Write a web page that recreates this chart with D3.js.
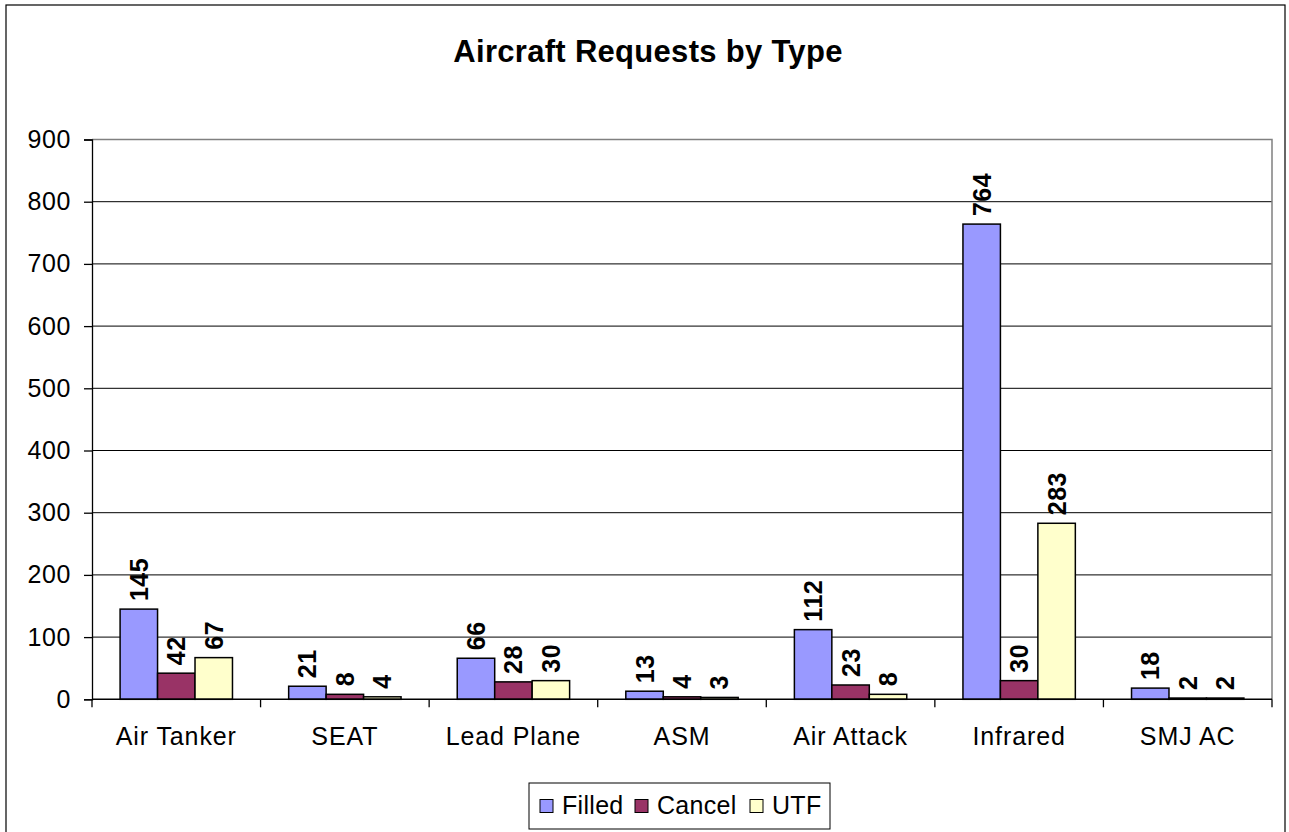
<!DOCTYPE html>
<html><head><meta charset="utf-8">
<script src="https://cdn.jsdelivr.net/npm/d3@7"></script>
<style>html,body{margin:0;padding:0;background:#fff;overflow:hidden}svg{display:block;font-family:"Liberation Sans",Arial,sans-serif}</style>
</head><body>
<script>
const categories = ["Air Tanker","SEAT","Lead Plane","ASM","Air Attack","Infrared","SMJ AC"];
const seriesNames = ["Filled","Cancel","UTF"];
const filled = [145,21,66,13,112,764,18];
const cancel = [42,8,28,4,23,30,2];
const utf = [67,4,30,3,8,283,2];
const yTicks = [0,100,200,300,400,500,600,700,800,900];
const colors = ["#9999FF","#993366","#FFFFCC"];
const values = [filled, cancel, utf];

const W = 1289, H = 832;
const svg = d3.select("body").append("svg").attr("width",W).attr("height",H);
svg.append("rect").attr("x",6).attr("y",5).attr("width",1279).attr("height",900)
  .attr("fill","#fff").attr("stroke","#000").attr("stroke-width",1.2);

const L = 92, R = 1272, T = 139.5, B = 699.3;
const x0 = d3.scaleBand().domain(categories).range([L,R]).paddingInner(0).paddingOuter(0);
const y = d3.scaleLinear().domain([0,900]).range([B,T]);

svg.append("text").attr("x",648).attr("y",62).attr("text-anchor","middle")
  .attr("font-size",31).attr("font-weight","bold").attr("letter-spacing",0.3).text("Aircraft Requests by Type");

// grid
svg.append("g").selectAll("line").data(yTicks.filter(d=>d>0 && d<900)).join("line")
  .attr("x1",L).attr("x2",R).attr("y1",d=>y(d)).attr("y2",d=>y(d))
  .attr("stroke","#000").attr("stroke-width",1);
svg.append("path").attr("d",`M${L},${y(900)}H${R}V${B}`).attr("fill","none").attr("stroke","#808080").attr("stroke-width",1.5);

// y axis
const yAxis = d3.axisLeft(y).tickValues(yTicks).tickSize(8).tickPadding(13);
const gy = svg.append("g").attr("transform",`translate(${L},0)`).call(yAxis);
gy.select(".domain").attr("stroke","#000").attr("stroke-width",1.3);
gy.selectAll(".tick line").attr("stroke","#000").attr("stroke-width",1.3);
gy.selectAll(".tick text").attr("font-size",25).attr("letter-spacing",0.6).attr("fill","#000").attr("font-family","Liberation Sans, Arial, sans-serif");

// bars
const bw = x0.bandwidth()/4.5;
const groups = svg.append("g").selectAll("g").data(categories).join("g")
  .attr("transform",d=>`translate(${x0(d)+0.75*bw},0)`);
seriesNames.forEach((s,si)=>{
  groups.append("rect")
    .attr("x",si*bw).attr("width",bw)
    .attr("y",(d,i)=>y(values[si][i])).attr("height",(d,i)=>B-y(values[si][i]))
    .attr("fill",colors[si]).attr("stroke","#000").attr("stroke-width",1.5);
  groups.append("text")
    .attr("transform",(d,i)=>`translate(${si*bw+bw/2+9},${y(values[si][i])-8}) rotate(-90)`)
    .attr("font-size",25).attr("font-weight","bold").attr("letter-spacing",0.5).attr("text-anchor","start")
    .text((d,i)=>values[si][i]);
});

// x axis
const gx = svg.append("g").attr("transform",`translate(0,${B})`);
gx.append("line").attr("x1",L).attr("x2",R).attr("stroke","#000").attr("stroke-width",1.5);
gx.selectAll("line.tk").data(d3.range(categories.length+1)).join("line").attr("class","tk")
  .attr("x1",i=>L+i*x0.step()).attr("x2",i=>L+i*x0.step()).attr("y1",0).attr("y2",8)
  .attr("stroke","#000").attr("stroke-width",1.3);
gx.selectAll("text").data(categories).join("text")
  .attr("x",d=>x0(d)+x0.bandwidth()/2).attr("y",46).attr("text-anchor","middle")
  .attr("font-size",25).attr("letter-spacing",0.9).text(d=>d);

// legend
const lg = svg.append("g");
lg.append("rect").attr("x",529).attr("y",783).attr("width",301).attr("height",46)
  .attr("fill","#fff").attr("stroke","#000").attr("stroke-width",1);
const lx = [540,635,750];
seriesNames.forEach((s,i)=>{
  lg.append("rect").attr("x",lx[i]).attr("y",799.5).attr("width",13).attr("height",13)
    .attr("fill",colors[i]).attr("stroke","#000").attr("stroke-width",1);
  lg.append("text").attr("x",lx[i]+22).attr("y",814).attr("font-size",25).attr("letter-spacing",0.3).text(s);
});
</script>
</body></html>
